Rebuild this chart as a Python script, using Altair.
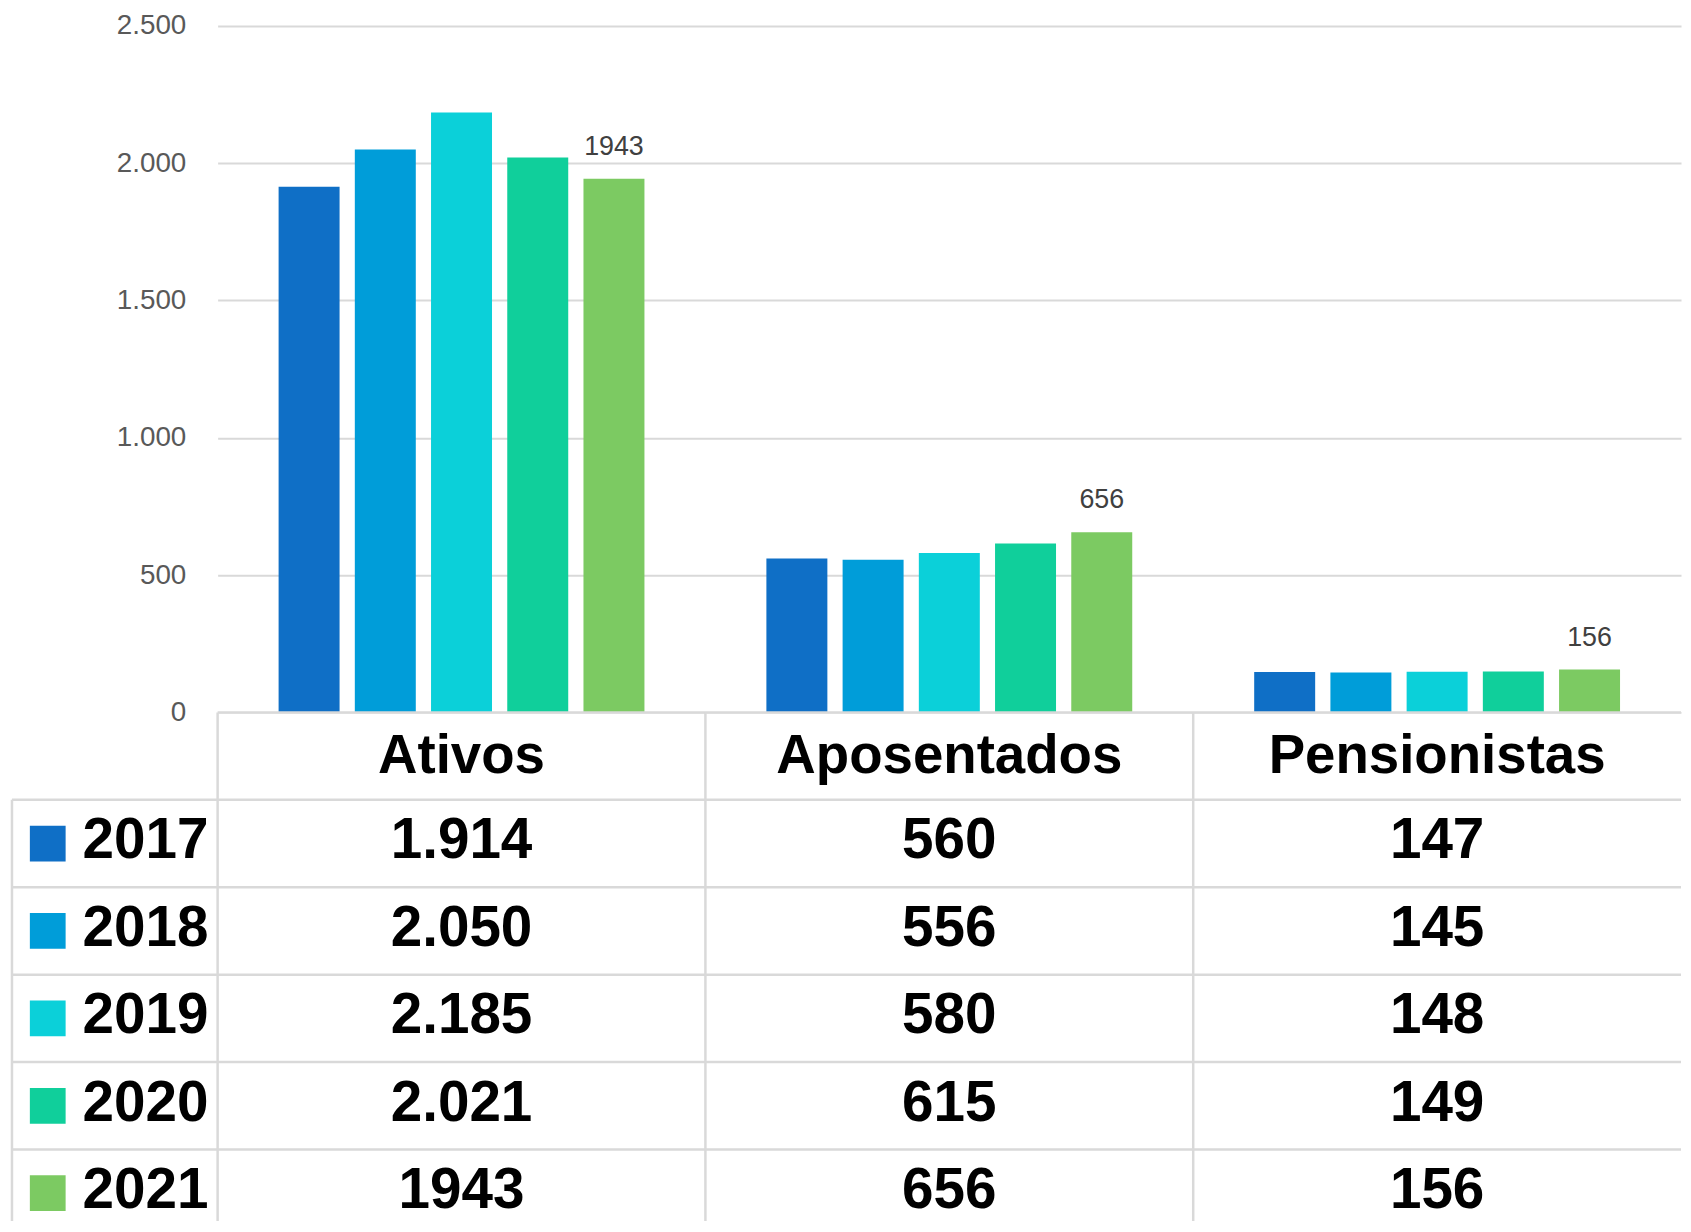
import altair as alt
import pandas as pd

# ---- data ----
anos = ["2017", "2018", "2019", "2020", "2021"]
categorias = ["Ativos", "Aposentados", "Pensionistas"]
ativos = [1914, 2050, 2185, 2021, 1943]
aposentados = [560, 556, 580, 615, 656]
pensionistas = [147, 145, 148, 149, 156]
rotulos_ativos = ["1.914", "2.050", "2.185", "2.021", "1943"]
rotulos_aposentados = ["560", "556", "580", "615", "656"]
rotulos_pensionistas = ["147", "145", "148", "149", "156"]
cores = ["#0F6FC6", "#009DD9", "#0BD0D9", "#10CF9B", "#7CCA62"]
ticks_y = [0, 500, 1000, 1500, 2000, 2500]

linhas = ["cab"] + anos

valores = {"Ativos": ativos, "Aposentados": aposentados, "Pensionistas": pensionistas}
rotulos = {"Ativos": rotulos_ativos, "Aposentados": rotulos_aposentados,
           "Pensionistas": rotulos_pensionistas}
rows = []
for c in categorias:
    for a, v, r in zip(anos, valores[c], rotulos[c]):
        rows.append({"Categoria": c, "Ano": a, "Valor": v, "Rotulo": r})
df = pd.DataFrame(rows)

# ---- layout sizes ----
W = 1473      # plot width (3 columns)
HB = 691      # bar plot height
LW = 207      # legend column width
ROW = 88      # table row height
T = 512       # visible table height

FONT = "Liberation Sans"
GRID = "#D9D9D9"

x_scale = alt.Scale(domain=categorias, paddingInner=0, paddingOuter=0)
color_scale = alt.Scale(domain=anos, range=cores)
off_scale = alt.Scale(domain=anos, paddingInner=0.2, paddingOuter=0.8)
y_t = alt.Scale(domain=linhas, range=[0, 6 * ROW], paddingInner=0, paddingOuter=0)

# ---- bar chart ----
base = alt.Chart(df)
bars = base.mark_bar().encode(
    x=alt.X("Categoria:N", scale=x_scale, axis=None),
    xOffset=alt.XOffset("Ano:N", scale=off_scale),
    y=alt.Y("Valor:Q", scale=alt.Scale(domain=[0, 2500], nice=False),
            axis=alt.Axis(values=ticks_y, title=None, grid=True, gridColor=GRID,
                          gridWidth=2, domain=False, ticks=False, labelPadding=32,
                          labelFontSize=28, labelFont=FONT, labelColor="#595959",
                          labelExpr="replace(format(datum.value, ','), ',', '.')")),
    color=alt.Color("Ano:N", scale=color_scale, legend=None),
)
bar_labels = base.transform_filter(alt.datum.Ano == "2021").mark_text(
    baseline="bottom", dy=-18, fontSize=27, font=FONT, color="#404040"
).encode(
    x=alt.X("Categoria:N", scale=x_scale, axis=None),
    xOffset=alt.XOffset("Ano:N", scale=off_scale),
    y=alt.Y("Valor:Q"),
    text=alt.Text("Valor:Q", format="d"),
)
top = alt.layer(bars, bar_labels).properties(width=W, height=HB)

spacer = alt.Chart(pd.DataFrame({"v": [0]})).mark_point(opacity=0).encode(
    x=alt.value(0), y=alt.value(0)
).properties(width=LW, height=HB)

# ---- legend column of the table ----
leg_df = pd.DataFrame({"linha": anos})
rule_style = dict(color=GRID, strokeWidth=2.5)
leg_rules = alt.Chart(leg_df).mark_rule(**rule_style).encode(
    y=alt.Y("linha:N", scale=y_t, axis=None, bandPosition=0)
)
leg_left = alt.Chart(pd.DataFrame({"linha": [anos[0]]})).mark_rule(**rule_style).encode(
    x=alt.value(0),
    y=alt.Y("linha:N", scale=y_t, axis=None, bandPosition=0),
    y2=alt.value(T),
)
leg_sq = alt.Chart(leg_df).mark_square(size=1296, opacity=1, filled=True).encode(
    x=alt.value(36),
    y=alt.Y("linha:N", scale=y_t, axis=None),
    color=alt.Color("linha:N", scale=color_scale, legend=None),
)
leg_txt = alt.Chart(leg_df).mark_text(
    align="left", baseline="middle", dy=-2, fontSize=57, fontWeight="bold", font=FONT,
    color="#000000"
).encode(
    x=alt.value(71),
    y=alt.Y("linha:N", scale=y_t, axis=None),
    text="linha:N",
)
legend_panel = alt.layer(leg_rules, leg_left, leg_sq, leg_txt).properties(width=LW, height=T)

# ---- table body ----
t_hrules = alt.Chart(pd.DataFrame({"linha": linhas})).mark_rule(**rule_style).encode(
    y=alt.Y("linha:N", scale=y_t, axis=None, bandPosition=0)
)
t_vrules = alt.Chart(pd.DataFrame({"Categoria": categorias})).mark_rule(**rule_style).encode(
    x=alt.X("Categoria:N", scale=x_scale, axis=None, bandPosition=0)
)
head_df = pd.DataFrame({"Categoria": categorias, "linha": ["cab"] * len(categorias)})
t_head = alt.Chart(head_df).mark_text(
    baseline="middle", fontSize=55, fontWeight="bold", font=FONT, color="#000000"
).encode(
    x=alt.X("Categoria:N", scale=x_scale, axis=None),
    y=alt.Y("linha:N", scale=y_t, axis=None),
    text="Categoria:N",
)
t_vals = alt.Chart(df).mark_text(
    baseline="middle", dy=-2, fontSize=57, fontWeight="bold", font=FONT, color="#000000"
).encode(
    x=alt.X("Categoria:N", scale=x_scale, axis=None),
    y=alt.Y("Ano:N", scale=y_t, axis=None),
    text="Rotulo:N",
)
table = alt.layer(t_hrules, t_vrules, t_head, t_vals).properties(width=W, height=T)

chart = alt.concat(
    spacer, top, legend_panel, table, columns=2, spacing=0, bounds="flush"
).resolve_scale(
    x="independent", y="independent"
).configure_view(
    stroke=None
).properties(
    padding={"left": 1, "top": 0, "right": 0, "bottom": 0},
    background="white",
)

chart.save("out.html", embed_options={"renderer": "svg", "actions": False})
